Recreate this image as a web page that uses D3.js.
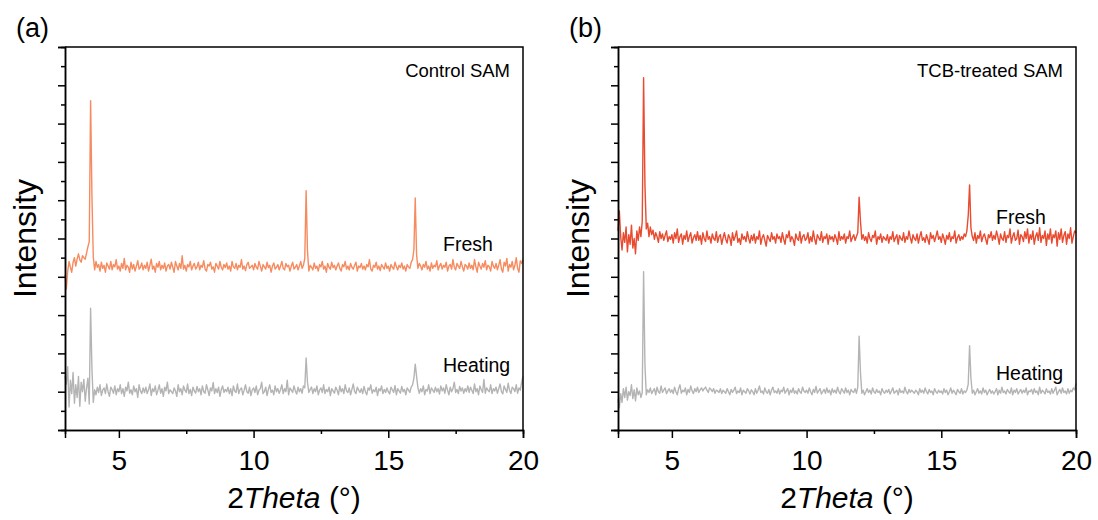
<!DOCTYPE html>
<html>
<head>
<meta charset="utf-8">
<script src="https://cdn.jsdelivr.net/npm/d3@7"></script>
<style>
  html, body { margin: 0; padding: 0; background: #fff; }
  svg { display: block; font-family: Arial, "Liberation Sans", sans-serif; }
</style>
</head>
<body>
<div id="chart"></div>
<script>
// 2Theta grid: 3.00 .. 20.00 in 0.05 steps, one row per degree
const thetaStart = 3;
const thetaStep = 0.05;

// Panel (a) Control SAM, intensity in arbitrary units (100 = one major tick)
const freshA = [
  405, 368, 415, 440, 425, 412, 438, 450, 428, 446, 460, 444, 438, 455, 450, 446, 462, 478, 492, 860, // 3
  610, 452, 418, 440, 425, 432, 415, 438, 422, 430, 412, 436, 428, 420, 440, 418, 432, 426, 445, 420, // 4
  428, 415, 435, 422, 448, 418, 430, 425, 412, 438, 420, 432, 415, 428, 442, 420, 425, 436, 418, 430, // 5
  422, 438, 415, 430, 446, 420, 428, 412, 435, 425, 440, 418, 430, 422, 436, 415, 428, 432, 420, 438, // 6
  425, 412, 440, 428, 418, 435, 422, 455, 420, 430, 415, 432, 426, 440, 418, 428, 435, 420, 426, 438, // 7
  418, 430, 425, 442, 420, 415, 432, 428, 438, 420, 426, 412, 435, 428, 420, 440, 425, 418, 432, 424, // 8
  436, 420, 428, 415, 440, 426, 422, 435, 418, 430, 425, 445, 420, 428, 416, 432, 438, 422, 426, 430, // 9
  418, 435, 425, 420, 440, 428, 415, 432, 426, 420, 438, 424, 430, 412, 428, 436, 420, 425, 432, 418, // 10
  428, 440, 422, 418, 435, 426, 430, 415, 428, 438, 420, 425, 432, 418, 428, 440, 422, 430, 448, 625, // 11
  468, 415, 430, 425, 418, 436, 422, 428, 415, 432, 426, 440, 420, 428, 412, 435, 425, 420, 438, 424, // 12
  430, 418, 428, 436, 422, 415, 432, 426, 440, 420, 428, 418, 435, 425, 420, 430, 438, 415, 428, 424, // 13
  435, 420, 428, 418, 432, 426, 445, 420, 415, 430, 425, 438, 420, 428, 416, 432, 426, 420, 436, 422, // 14
  428, 415, 432, 425, 420, 438, 426, 418, 430, 424, 436, 420, 428, 415, 432, 426, 422, 438, 445, 470, // 15
  606, 458, 422, 435, 428, 418, 432, 425, 440, 420, 428, 415, 436, 422, 430, 426, 442, 418, 428, 435, // 16
  420, 430, 425, 438, 415, 428, 432, 420, 445, 425, 418, 435, 428, 422, 440, 426, 415, 432, 428, 420, // 17
  436, 422, 430, 418, 445, 426, 412, 438, 428, 420, 435, 425, 442, 418, 430, 426, 415, 440, 428, 422, // 18
  435, 418, 430, 445, 420, 412, 438, 428, 448, 415, 432, 425, 440, 418, 430, 450, 422, 412, 442, 435, // 19
  445
];
const heatA = [
  140, 120, 165, 60, 130, 95, 150, 70, 118, 85, 140, 62, 125, 100, 132, 75, 110, 135, 68, 318,
  160, 72, 105, 92, 112, 98, 118, 90, 104, 110, 95, 120, 100, 88, 112, 105, 96, 115, 92, 108,
  100, 118, 95, 108, 88, 112, 102, 125, 96, 105, 92, 115, 100, 108, 85, 118, 102, 95, 110, 98,
  112, 95, 105, 120, 90, 108, 100, 115, 92, 104, 118, 96, 108, 88, 112, 102, 125, 95, 105, 100,
  95, 110, 102, 88, 118, 100, 108, 92, 115, 104, 98, 120, 95, 106, 90, 112, 102, 96, 114, 100,
  108, 92, 115, 100, 96, 118, 105, 90, 110, 102, 124, 95, 108, 98, 112, 88, 105, 115, 98, 106,
  100, 112, 95, 108, 90, 115, 102, 98, 120, 95, 106, 110, 92, 104, 118, 100, 96, 112, 90, 105,
  110, 98, 115, 92, 104, 108, 125, 95, 100, 112, 90, 106, 118, 98, 104, 92, 115, 100, 108, 96,
  105, 118, 95, 108, 100, 130, 92, 110, 104, 98, 115, 102, 94, 112, 100, 108, 96, 115, 110, 188,
  125, 98, 106, 112, 95, 108, 100, 115, 92, 104, 110, 98, 118, 95, 106, 100, 112, 90, 108, 102,
  96, 112, 104, 92, 115, 100, 108, 95, 118, 102, 98, 110, 92, 106, 120, 100, 95, 112, 104, 98,
  108, 95, 114, 100, 92, 110, 104, 118, 96, 105, 100, 112, 90, 108, 102, 115, 95, 106, 98, 110,
  100, 94, 112, 105, 98, 116, 92, 108, 102, 96, 114, 100, 106, 92, 110, 104, 98, 112, 118, 135,
  172, 140, 110, 96, 108, 100, 115, 92, 106, 102, 118, 95, 110, 104, 98, 112, 100, 108, 94, 115,
  102, 110, 96, 118, 104, 92, 112, 100, 108, 125, 98, 106, 95, 114, 102, 110, 96, 108, 100, 115,
  98, 112, 104, 95, 120, 100, 108, 92, 115, 105, 98, 132, 96, 110, 104, 100, 118, 95, 108, 102,
  112, 96, 108, 120, 100, 94, 115, 106, 98, 122, 104, 95, 112, 108, 100, 118, 96, 110, 104, 125,
  140
];

// Panel (b) TCB-treated SAM
const freshB = [
  520, 572, 505, 470, 515, 490, 530, 465, 510, 485, 535, 475, 500, 460, 520, 495, 530, 505, 545, 920,
  640, 525, 540, 505, 530, 510, 522, 498, 515, 505, 490, 518, 500, 512, 495, 508, 520, 492, 505, 498,
  510, 488, 515, 500, 525, 490, 505, 512, 485, 508, 498, 520, 492, 505, 515, 488, 502, 510, 495, 518,
  495, 508, 485, 515, 500, 492, 520, 498, 505, 488, 512, 500, 495, 518, 490, 505, 510, 485, 502, 515,
  498, 488, 510, 502, 482, 515, 495, 505, 520, 490, 500, 485, 512, 498, 505, 492, 518, 500, 488, 508,
  495, 512, 488, 505, 498, 520, 485, 502, 510, 495, 480, 508, 500, 492, 515, 498, 505, 488, 512, 500,
  505, 490, 515, 498, 485, 510, 502, 520, 492, 505, 498, 482, 512, 500, 495, 518, 488, 505, 510, 495,
  500, 515, 488, 505, 492, 520, 498, 485, 510, 502, 495, 518, 490, 505, 500, 512, 485, 508, 498, 505,
  492, 510, 500, 485, 518, 495, 505, 498, 512, 488, 505, 500, 520, 492, 502, 510, 495, 505, 515, 608,
  545, 498, 510, 495, 505, 488, 515, 500, 492, 508, 502, 520, 485, 505, 498, 512, 490, 505, 500, 495,
  510, 488, 505, 498, 518, 492, 502, 510, 485, 508, 500, 495, 515, 490, 505, 498, 520, 502, 488, 510,
  500, 495, 512, 488, 505, 518, 495, 502, 490, 510, 498, 485, 515, 500, 508, 492, 505, 520, 498, 505,
  490, 512, 500, 485, 508, 498, 515, 492, 505, 500, 520, 488, 502, 510, 495, 505, 498, 512, 505, 520,
  560, 640, 528, 505, 495, 515, 488, 508, 500, 520, 492, 505, 512, 498, 485, 510, 502, 518, 495, 508,
  498, 520, 505, 485, 512, 500, 495, 518, 490, 508, 502, 525, 488, 505, 515, 495, 500, 522, 485, 510,
  505, 492, 518, 500, 525, 488, 510, 498, 520, 485, 505, 515, 495, 528, 490, 508, 500, 520, 482, 512,
  498, 525, 488, 510, 502, 520, 480, 515, 498, 525, 490, 508, 518, 485, 512, 500, 528, 488, 505, 520,
  515
];
const heatB = [
  80, 58, 95, 72, 108, 85, 112, 78, 100, 90, 118, 82, 105, 76, 110, 92, 102, 85, 98, 413,
  170, 92, 105, 98, 110, 95, 102, 108, 92, 112, 100, 96, 115, 98, 104, 110, 95, 102, 108, 98,
  105, 95, 112, 100, 92, 108, 118, 96, 104, 100, 110, 92, 106, 98, 115, 102, 95, 108, 100, 112,
  98, 105, 110, 102, 108, 112, 104, 98, 110, 106, 100, 108, 96, 104, 102, 98, 108, 95, 104, 100,
  96, 108, 100, 92, 106, 98, 104, 112, 95, 102, 98, 110, 92, 104, 100, 96, 108, 102, 94, 105,
  100, 92, 108, 96, 104, 115, 98, 102, 94, 110, 100, 96, 106, 92, 104, 112, 98, 102, 96, 108,
  94, 104, 100, 112, 96, 102, 108, 92, 104, 98, 110, 96, 102, 94, 108, 100, 96, 112, 102, 98,
  104, 96, 110, 100, 92, 106, 98, 114, 96, 102, 108, 94, 100, 106, 96, 110, 98, 104, 92, 108,
  98, 104, 96, 112, 100, 94, 108, 102, 96, 110, 98, 104, 92, 106, 100, 98, 108, 96, 112, 245,
  150, 96, 104, 92, 100, 108, 98, 104, 94, 110, 100, 96, 106, 98, 102, 92, 108, 100, 96, 104,
  98, 106, 94, 102, 110, 96, 100, 104, 92, 108, 98, 102, 96, 112, 100, 94, 106, 98, 104, 100,
  96, 104, 100, 92, 108, 98, 104, 96, 110, 100, 94, 106, 98, 102, 92, 108, 100, 96, 104, 98,
  102, 94, 108, 98, 104, 92, 100, 110, 96, 104, 98, 92, 106, 100, 96, 108, 94, 102, 98, 104,
  120, 220, 135, 96, 104, 92, 100, 108, 96, 102, 94, 110, 98, 104, 92, 100, 106, 96, 102, 94,
  100, 108, 92, 104, 96, 112, 98, 102, 94, 106, 100, 96, 110, 92, 104, 98, 108, 94, 100, 106,
  96, 104, 98, 110, 92, 102, 100, 106, 94, 108, 98, 102, 92, 112, 96, 104, 100, 94, 108, 98,
  102, 94, 108, 96, 104, 112, 92, 100, 106, 96, 110, 98, 102, 94, 108, 96, 104, 100, 110, 105,
  122
];

const xMajorTicks = [5, 10, 15, 20];
const xMinorTicks = [7.5, 12.5, 17.5];
const yMajorTicks = d3.range(0, 1001, 100);
const yMinorTicks = d3.range(50, 1000, 100);

const panels = [
  { tag: '(a)', title: 'Control SAM', fresh: freshA, heat: heatA, freshColor: '#f68b60' },
  { tag: '(b)', title: 'TCB-treated SAM', fresh: freshB, heat: heatB, freshColor: '#e84b30' }
];

const width = 1098;
const height = 520;
const plotTop = 47;
const plotBottom = 430;
const plotWidth = 458;
const panelLefts = [65, 618];
const heatColor = '#b4b4b4';

const svg = d3.select('#chart')
  .append('svg')
  .attr('width', width)
  .attr('height', height);

const toPoints = values => values.map((v, i) => [thetaStart + i * thetaStep, v]);

panels.forEach((p, k) => {
  const left = panelLefts[k];
  const right = left + plotWidth;

  const x = d3.scaleLinear().domain([3, 20]).range([left, right]);
  const y = d3.scaleLinear().domain([0, 1000]).range([plotBottom, plotTop]);

  const g = svg.append('g');

  // traces
  const line = d3.line().x(d => x(d[0])).y(d => y(d[1]));
  [[p.heat, heatColor], [p.fresh, p.freshColor]].forEach(([vals, color]) => {
    g.append('path')
      .datum(toPoints(vals))
      .attr('fill', 'none')
      .attr('stroke', color)
      .attr('stroke-width', 1.4)
      .attr('stroke-linejoin', 'round')
      .attr('d', line);
  });

  // frame (top and right, no ticks)
  g.append('path')
    .attr('d', `M${left},${plotTop}H${right}V${plotBottom}`)
    .attr('fill', 'none')
    .attr('stroke', '#000')
    .attr('stroke-width', 1.5);

  // y axis, no labels
  const yMajor = g.append('g')
    .attr('transform', `translate(${left},0)`)
    .call(d3.axisLeft(y).tickValues(yMajorTicks).tickSize(7).tickFormat(''));
  const yMinor = g.append('g')
    .attr('transform', `translate(${left},0)`)
    .call(d3.axisLeft(y).tickValues(yMinorTicks).tickSize(4).tickFormat(''));

  // x axis
  const xMajor = g.append('g')
    .attr('transform', `translate(0,${plotBottom})`)
    .call(d3.axisBottom(x).tickValues(xMajorTicks).tickSize(8).tickPadding(12));
  const xMinor = g.append('g')
    .attr('transform', `translate(0,${plotBottom})`)
    .call(d3.axisBottom(x).tickValues(xMinorTicks).tickSize(4).tickFormat(''));

  [yMajor, yMinor, xMajor, xMinor].forEach(a => {
    a.select('.domain').attr('stroke-width', 1.5);
    a.selectAll('.tick line').attr('stroke-width', 1.5);
  });
  xMajor.selectAll('.tick text')
    .attr('font-size', '28px')
    .attr('font-family', 'Arial, "Liberation Sans", sans-serif')
    .attr('fill', '#000');

  // axis titles
  const xt = g.append('text')
    .attr('x', (left + right) / 2)
    .attr('y', 508)
    .attr('text-anchor', 'middle')
    .attr('font-size', '30px');
  xt.append('tspan').text('2');
  xt.append('tspan').attr('font-style', 'italic').text('Theta');
  xt.append('tspan').text(' (°)');

  g.append('text')
    .attr('transform', `translate(${left - 29},${(plotTop + plotBottom) / 2}) rotate(-90)`)
    .attr('text-anchor', 'middle')
    .attr('font-size', '32px')
    .text('Intensity');

  // panel tag and sample name
  g.append('text')
    .attr('x', left - 49)
    .attr('y', 37)
    .attr('font-size', '27px')
    .text(p.tag);

  g.append('text')
    .attr('x', right - 13)
    .attr('y', 77)
    .attr('text-anchor', 'end')
    .attr('font-size', '18.5px')
    .text(p.title);

  // trace labels
  g.append('text')
    .attr('x', right - 80)
    .attr('y', k === 0 ? 251 : 224)
    .attr('font-size', '19.5px')
    .text('Fresh');

  g.append('text')
    .attr('x', right - 80)
    .attr('y', k === 0 ? 372 : 380)
    .attr('font-size', '19.5px')
    .text('Heating');
});
</script>
</body>
</html>
